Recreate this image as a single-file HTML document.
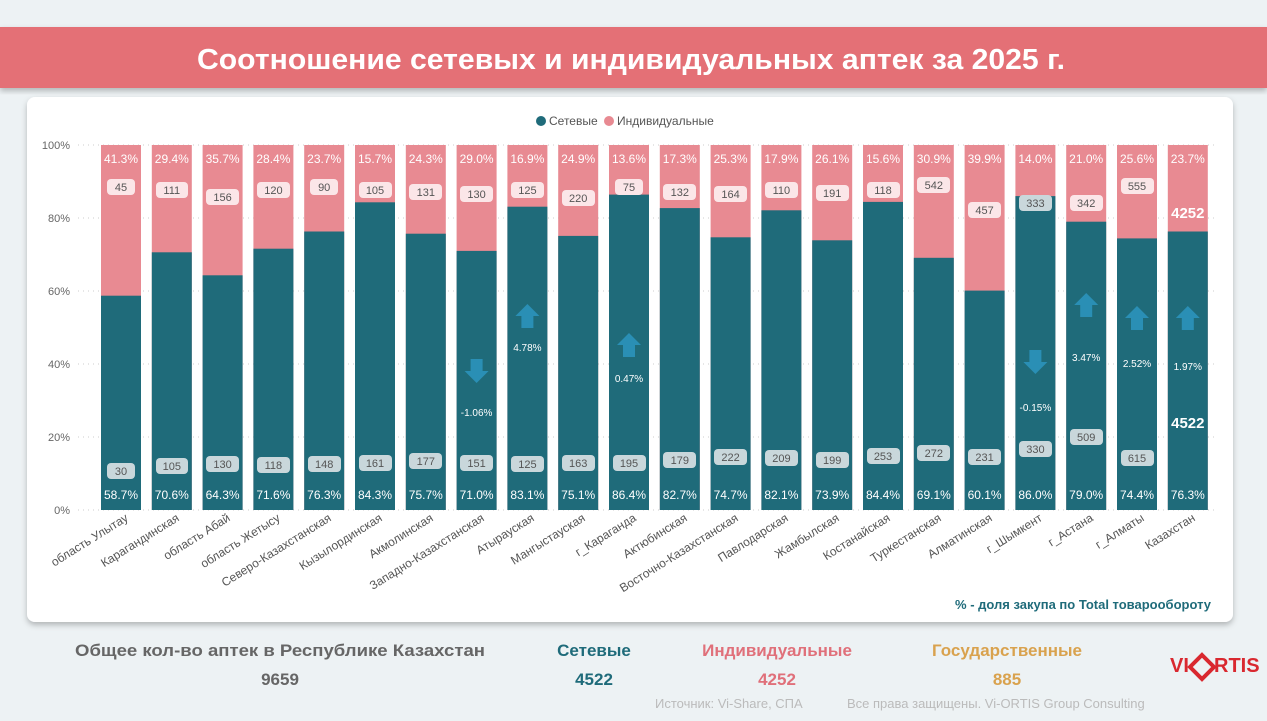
<!DOCTYPE html>
<html><head><meta charset="utf-8"><style>
body{margin:0;width:1267px;height:716px;overflow:hidden;background:#edf2f4;font-family:"Liberation Sans",sans-serif}
</style></head><body>
<svg width="1267" height="716" viewBox="0 0 1267 716" xmlns="http://www.w3.org/2000/svg" font-family="Liberation Sans, sans-serif">
<defs><filter id="sh" x="-5%" y="-5%" width="110%" height="115%"><feDropShadow dx="0" dy="3" stdDeviation="3" flood-color="#000" flood-opacity="0.25"/></filter>
<g id="up"><path d="M-12,0 L0,-12 L12,0 L6,0 L6,12 L-6,12 L-6,0Z" fill="#2a8fb5"/></g>
<g id="dn"><path d="M-12,0 L0,12 L12,0 L6,0 L6,-12 L-6,-12 L-6,0Z" fill="#2a8fb5"/></g>
</defs>
<rect x="0" y="0" width="1267" height="716" fill="#edf2f4"/>
<rect x="0" y="27" width="1267" height="61" fill="#e46f76" filter="url(#sh)"/>
<text x="631" y="69" text-anchor="middle" font-size="29" font-weight="bold" fill="#fff" textLength="868" lengthAdjust="spacingAndGlyphs">Соотношение сетевых и индивидуальных аптек за 2025 г.</text>
<rect x="27" y="97" width="1206" height="525" rx="8" fill="#fff" filter="url(#sh)"/>
<circle cx="541" cy="121" r="5" fill="#1f6b7a"/><text x="549" y="125" font-size="12" fill="#555">Сетевые</text>
<circle cx="609" cy="121" r="5" fill="#e88a92"/><text x="617" y="125" font-size="12" fill="#555">Индивидуальные</text>
<g stroke="#ccc" stroke-dasharray="1,4">
<line x1="78" x2="1215" y1="145" y2="145"/><line x1="78" x2="1215" y1="218" y2="218"/><line x1="78" x2="1215" y1="291" y2="291"/><line x1="78" x2="1215" y1="364" y2="364"/><line x1="78" x2="1215" y1="437" y2="437"/><line x1="78" x2="1215" y1="510" y2="510"/></g>
<g font-size="11" fill="#666" text-anchor="end">
<text x="70" y="149">100%</text><text x="70" y="222">80%</text><text x="70" y="295">60%</text><text x="70" y="368">40%</text><text x="70" y="441">20%</text><text x="70" y="514">0%</text></g>
<g fill="#e88a92">
<rect x="101" y="145" width="40" height="365"/><rect x="151.8" y="145" width="40" height="365"/><rect x="202.6" y="145" width="40" height="365"/><rect x="253.4" y="145" width="40" height="365"/><rect x="304.2" y="145" width="40" height="365"/><rect x="355" y="145" width="40" height="365"/><rect x="405.8" y="145" width="40" height="365"/><rect x="456.6" y="145" width="40" height="365"/><rect x="507.4" y="145" width="40" height="365"/><rect x="558.2" y="145" width="40" height="365"/><rect x="609" y="145" width="40" height="365"/><rect x="659.8" y="145" width="40" height="365"/><rect x="710.6" y="145" width="40" height="365"/><rect x="761.4" y="145" width="40" height="365"/><rect x="812.2" y="145" width="40" height="365"/><rect x="863" y="145" width="40" height="365"/><rect x="913.8" y="145" width="40" height="365"/><rect x="964.6" y="145" width="40" height="365"/><rect x="1015.4" y="145" width="40" height="365"/><rect x="1066.2" y="145" width="40" height="365"/><rect x="1117" y="145" width="40" height="365"/><rect x="1167.8" y="145" width="40" height="365"/></g>
<g fill="#1f6b7a">
<rect x="101" y="295.7" width="40" height="214.3"/><rect x="151.8" y="252.3" width="40" height="257.7"/><rect x="202.6" y="275.3" width="40" height="234.7"/><rect x="253.4" y="248.7" width="40" height="261.3"/><rect x="304.2" y="231.5" width="40" height="278.5"/><rect x="355" y="202.3" width="40" height="307.7"/><rect x="405.8" y="233.7" width="40" height="276.3"/><rect x="456.6" y="250.9" width="40" height="259.1"/><rect x="507.4" y="206.7" width="40" height="303.3"/><rect x="558.2" y="235.9" width="40" height="274.1"/><rect x="609" y="194.6" width="40" height="315.4"/><rect x="659.8" y="208.1" width="40" height="301.9"/><rect x="710.6" y="237.3" width="40" height="272.7"/><rect x="761.4" y="210.3" width="40" height="299.7"/><rect x="812.2" y="240.3" width="40" height="269.7"/><rect x="863" y="201.9" width="40" height="308.1"/><rect x="913.8" y="257.8" width="40" height="252.2"/><rect x="964.6" y="290.6" width="40" height="219.4"/><rect x="1015.4" y="196.1" width="40" height="313.9"/><rect x="1066.2" y="221.7" width="40" height="288.3"/><rect x="1117" y="238.4" width="40" height="271.6"/><rect x="1167.8" y="231.5" width="40" height="278.5"/></g>
<g font-size="12" fill="#fff" text-anchor="middle">
<text x="121" y="163">41.3%</text><text x="171.8" y="163">29.4%</text><text x="222.6" y="163">35.7%</text><text x="273.4" y="163">28.4%</text><text x="324.2" y="163">23.7%</text><text x="375" y="163">15.7%</text><text x="425.8" y="163">24.3%</text><text x="476.6" y="163">29.0%</text><text x="527.4" y="163">16.9%</text><text x="578.2" y="163">24.9%</text><text x="629" y="163">13.6%</text><text x="679.8" y="163">17.3%</text><text x="730.6" y="163">25.3%</text><text x="781.4" y="163">17.9%</text><text x="832.2" y="163">26.1%</text><text x="883" y="163">15.6%</text><text x="933.8" y="163">30.9%</text><text x="984.6" y="163">39.9%</text><text x="1035.4" y="163">14.0%</text><text x="1086.2" y="163">21.0%</text><text x="1137" y="163">25.6%</text><text x="1187.8" y="163">23.7%</text>
<text x="121" y="499">58.7%</text><text x="171.8" y="499">70.6%</text><text x="222.6" y="499">64.3%</text><text x="273.4" y="499">71.6%</text><text x="324.2" y="499">76.3%</text><text x="375" y="499">84.3%</text><text x="425.8" y="499">75.7%</text><text x="476.6" y="499">71.0%</text><text x="527.4" y="499">83.1%</text><text x="578.2" y="499">75.1%</text><text x="629" y="499">86.4%</text><text x="679.8" y="499">82.7%</text><text x="730.6" y="499">74.7%</text><text x="781.4" y="499">82.1%</text><text x="832.2" y="499">73.9%</text><text x="883" y="499">84.4%</text><text x="933.8" y="499">69.1%</text><text x="984.6" y="499">60.1%</text><text x="1035.4" y="499">86.0%</text><text x="1086.2" y="499">79.0%</text><text x="1137" y="499">74.4%</text><text x="1187.8" y="499">76.3%</text>
</g>
<g fill="#fbe6e8"><rect x="107" y="179" width="28" height="16" rx="4"/><rect x="156" y="182" width="32" height="16" rx="4"/><rect x="206" y="189" width="33" height="16" rx="4"/><rect x="257" y="182" width="33" height="16" rx="4"/><rect x="310" y="179" width="28" height="16" rx="4"/><rect x="359" y="182" width="33" height="16" rx="4"/><rect x="409" y="184" width="33" height="16" rx="4"/><rect x="460" y="186" width="33" height="16" rx="4"/><rect x="511" y="182" width="33" height="16" rx="4"/><rect x="562" y="190" width="33" height="16" rx="4"/><rect x="615" y="179" width="28" height="16" rx="4"/><rect x="663" y="184" width="33" height="16" rx="4"/><rect x="714" y="186" width="33" height="16" rx="4"/><rect x="765" y="182" width="33" height="16" rx="4"/><rect x="816" y="185" width="33" height="16" rx="4"/><rect x="867" y="182" width="33" height="16" rx="4"/><rect x="917" y="177" width="33" height="16" rx="4"/><rect x="968" y="202" width="33" height="16" rx="4"/><rect x="1070" y="195" width="33" height="16" rx="4"/><rect x="1121" y="178" width="33" height="16" rx="4"/></g>
<g fill="#c9d7db"><rect x="107" y="463" width="28" height="16" rx="4"/><rect x="156" y="458" width="32" height="16" rx="4"/><rect x="206" y="456" width="33" height="16" rx="4"/><rect x="257" y="457" width="33" height="16" rx="4"/><rect x="308" y="456" width="33" height="16" rx="4"/><rect x="359" y="455" width="33" height="16" rx="4"/><rect x="409" y="453" width="33" height="16" rx="4"/><rect x="460" y="455" width="33" height="16" rx="4"/><rect x="511" y="456" width="33" height="16" rx="4"/><rect x="562" y="455" width="33" height="16" rx="4"/><rect x="613" y="455" width="33" height="16" rx="4"/><rect x="663" y="452" width="33" height="16" rx="4"/><rect x="714" y="449" width="33" height="16" rx="4"/><rect x="765" y="450" width="33" height="16" rx="4"/><rect x="816" y="452" width="33" height="16" rx="4"/><rect x="867" y="448" width="33" height="16" rx="4"/><rect x="917" y="445" width="33" height="16" rx="4"/><rect x="968" y="449" width="33" height="16" rx="4"/><rect x="1019" y="441" width="33" height="16" rx="4"/><rect x="1019" y="195" width="33" height="16" rx="4"/><rect x="1070" y="429" width="33" height="16" rx="4"/><rect x="1121" y="450" width="33" height="16" rx="4"/></g>
<g font-size="11" fill="#555" text-anchor="middle">
<text x="121" y="191">45</text><text x="171.8" y="194">111</text><text x="222.6" y="201">156</text><text x="273.4" y="194">120</text><text x="324.2" y="191">90</text><text x="375" y="194">105</text><text x="425.8" y="196">131</text><text x="476.6" y="198">130</text><text x="527.4" y="194">125</text><text x="578.2" y="202">220</text><text x="629" y="191">75</text><text x="679.8" y="196">132</text><text x="730.6" y="198">164</text><text x="781.4" y="194">110</text><text x="832.2" y="197">191</text><text x="883" y="194">118</text><text x="933.8" y="189">542</text><text x="984.6" y="214">457</text><text x="1035.4" y="207">333</text><text x="1086.2" y="207">342</text><text x="1137" y="190">555</text>
<text x="121" y="475">30</text><text x="171.8" y="470">105</text><text x="222.6" y="468">130</text><text x="273.4" y="469">118</text><text x="324.2" y="468">148</text><text x="375" y="467">161</text><text x="425.8" y="465">177</text><text x="476.6" y="467">151</text><text x="527.4" y="468">125</text><text x="578.2" y="467">163</text><text x="629" y="467">195</text><text x="679.8" y="464">179</text><text x="730.6" y="461">222</text><text x="781.4" y="462">209</text><text x="832.2" y="464">199</text><text x="883" y="460">253</text><text x="933.8" y="457">272</text><text x="984.6" y="461">231</text><text x="1035.4" y="453">330</text><text x="1086.2" y="441">509</text><text x="1137" y="462">615</text>
</g>
<text x="1187.8" y="218" font-size="15" font-weight="bold" fill="#fff" text-anchor="middle">4252</text>
<text x="1187.8" y="428" font-size="15" font-weight="bold" fill="#fff" text-anchor="middle">4522</text>
<use href="#dn" x="476.6" y="371"/><use href="#up" x="527.4" y="316"/><use href="#up" x="629" y="345"/><use href="#dn" x="1035.4" y="362"/><use href="#up" x="1086.2" y="305"/><use href="#up" x="1137" y="318"/><use href="#up" x="1187.8" y="318"/>
<g font-size="10" fill="#fff" text-anchor="middle">
<text x="476.6" y="416">-1.06%</text><text x="527.4" y="351">4.78%</text><text x="629" y="382">0.47%</text><text x="1035.4" y="411">-0.15%</text><text x="1086.2" y="361">3.47%</text><text x="1137" y="367">2.52%</text><text x="1187.8" y="370">1.97%</text></g>
<g font-size="12" fill="#555" text-anchor="end">
<text transform="translate(129,520) rotate(-32)">область Улытау</text>
<text transform="translate(180,520) rotate(-32)">Карагандинская</text>
<text transform="translate(231,520) rotate(-32)">область Абай</text>
<text transform="translate(281,520) rotate(-32)">область Жетысу</text>
<text transform="translate(332,520) rotate(-32)">Северо-Казахстанская</text>
<text transform="translate(383,520) rotate(-32)">Кызылординская</text>
<text transform="translate(434,520) rotate(-32)">Акмолинская</text>
<text transform="translate(485,520) rotate(-32)">Западно-Казахстанская</text>
<text transform="translate(535,520) rotate(-32)">Атырауская</text>
<text transform="translate(586,520) rotate(-32)">Мангыстауская</text>
<text transform="translate(637,520) rotate(-32)">г_Караганда</text>
<text transform="translate(688,520) rotate(-32)">Актюбинская</text>
<text transform="translate(739,520) rotate(-32)">Восточно-Казахстанская</text>
<text transform="translate(789,520) rotate(-32)">Павлодарская</text>
<text transform="translate(840,520) rotate(-32)">Жамбылская</text>
<text transform="translate(891,520) rotate(-32)">Костанайская</text>
<text transform="translate(942,520) rotate(-32)">Туркестанская</text>
<text transform="translate(993,520) rotate(-32)">Алматинская</text>
<text transform="translate(1043,520) rotate(-32)">г_Шымкент</text>
<text transform="translate(1094,520) rotate(-32)">г_Астана</text>
<text transform="translate(1145,520) rotate(-32)">г_Алматы</text>
<text transform="translate(1196,520) rotate(-32)">Казахстан</text>
</g>
<text x="1211" y="609" font-size="13" font-weight="bold" fill="#1f6b7a" text-anchor="end">% - доля закупа по Total товарообороту</text>
<g font-size="17" font-weight="bold" text-anchor="middle">
<text x="280" y="656" fill="#666" textLength="410" lengthAdjust="spacingAndGlyphs">Общее кол-во аптек в Республике Казахстан</text>
<text x="280" y="685" fill="#666">9659</text>
<text x="594" y="656" fill="#1f6b7a">Сетевые</text><text x="594" y="685" fill="#1f6b7a">4522</text>
<text x="777" y="656" fill="#e0707a">Индивидуальные</text><text x="777" y="685" fill="#e0707a">4252</text>
<text x="1007" y="656" fill="#d9a24e">Государственные</text><text x="1007" y="685" fill="#d9a24e">885</text>
</g>
<text x="655" y="708" font-size="13" fill="#bbb">Источник: Vi-Share, СПА</text>
<text x="847" y="708" font-size="13" fill="#bbb">Все права защищены. Vi-ORTIS Group Consulting</text>
<text x="1170" y="672" font-size="20" font-weight="bold" fill="#d9282f">VI</text>
<path d="M1202,655 L1214,667 L1202,679 L1190,667Z" fill="none" stroke="#d9282f" stroke-width="4"/>
<text x="1214" y="672" font-size="20" font-weight="bold" fill="#d9282f">RTIS</text>
</svg>
</body></html>
